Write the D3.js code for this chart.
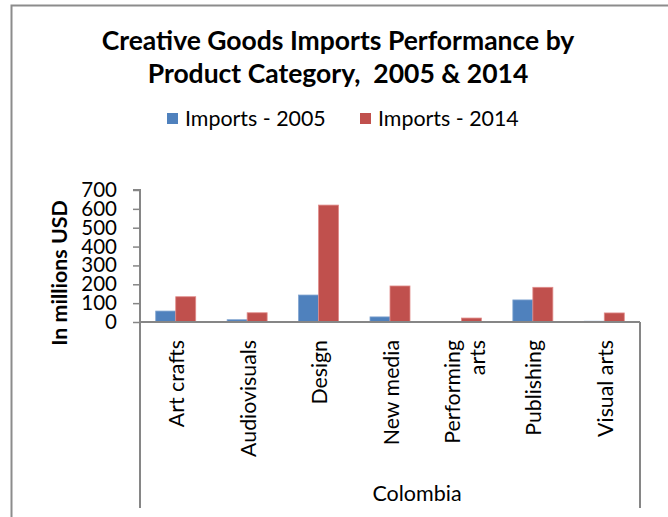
<!DOCTYPE html>
<html><head><meta charset="utf-8">
<script src="https://cdn.jsdelivr.net/npm/d3@7"></script>
<style>html,body{margin:0;padding:0;background:#fff;}svg{display:block;font-family:Lato,"Open Sans",sans-serif;}</style>
</head><body>
<svg id="c" width="668" height="517"></svg>
<script>
const categories = ["Art crafts","Audiovisuals","Design","New media","Performing arts","Publishing","Visual arts"];
const categoryLines = [["Art crafts"],["Audiovisuals"],["Design"],["New media"],["Performing","arts"],["Publishing"],["Visual arts"]];
const seriesNames = ["Imports - 2005","Imports - 2014"];
const imports2005 = [58, 12, 143, 27, 3, 117, 4];
const imports2014 = [134, 49, 620, 191, 21, 184, 48];
const yTicks = [0,100,200,300,400,500,600,700];
const colors = ["#4F81BD","#C0504D"];
const strokes = ["#7FA3CF","#E08C8A"];
const groupLabel = "Colombia";
const title = ["Creative Goods Imports Performance by","Product Category,  2005 & 2014"];
const yLabel = "In millions USD";

(function(){
const svg = d3.select("#c");
svg.append("path").attr("d","M11.5,517 L11.5,5.5 L668,5.5").attr("fill","none").attr("stroke","#8c8c8c").attr("stroke-width",2);

const pL=140, pR=640, pT=190, pB=322;
const x = d3.scaleBand().domain(categories).range([pL,pR]).paddingInner(0.44).paddingOuter(0.22);
const y = d3.scaleLinear().domain([0,700]).range([pB,pT]);
const x1 = d3.scaleBand().domain([0,1]).range([0,x.bandwidth()]);

svg.append("g").selectAll("text").data(title).join("text")
  .attr("x",338).attr("y",(d,i)=>50+i*33).attr("text-anchor","middle")
  .attr("font-weight","bold").attr("font-size",26.5).attr("fill","#000")
  .attr("xml:space","preserve").style("white-space","pre").text(d=>d);

const lg = svg.append("g");
const legX = [167,360];
seriesNames.forEach((n,i)=>{
  lg.append("rect").attr("x",legX[i]).attr("y",113).attr("width",11).attr("height",11).attr("fill",colors[i]);
  lg.append("text").attr("x",legX[i]+18).attr("y",126).attr("font-size",21.4).attr("fill","#000").text(n);
});

const series = [imports2005, imports2014];
series.forEach((vals,si)=>{
  svg.append("g").selectAll("rect").data(categories).join("rect")
    .attr("x",c=>x(c)+x1(si)).attr("width",x1.bandwidth())
    .attr("y",(c,i)=>y(vals[i])).attr("height",(c,i)=>pB-y(vals[i]))
    .attr("fill",colors[si]).attr("stroke",strokes[si]).attr("stroke-width",0.8);
});

const yAxis = svg.append("g").attr("transform",`translate(${pL},0)`)
  .call(d3.axisLeft(y).tickValues(yTicks).tickSize(7).tickPadding(16).tickFormat(d3.format("d")));
yAxis.select(".domain").attr("stroke","#868686").attr("stroke-width",2).attr("d",`M-7,${pT}H0V${pB}`);
yAxis.selectAll(".tick line").attr("stroke","#868686").attr("stroke-width",1.5);
yAxis.selectAll(".tick text").attr("font-size",20.5).attr("fill","#000").attr("font-family","Lato, sans-serif");

svg.append("line").attr("x1",pL).attr("x2",pR).attr("y1",pB).attr("y2",pB).attr("stroke","#868686").attr("stroke-width",2);
svg.append("line").attr("x1",pL).attr("x2",pL).attr("y1",pB).attr("y2",508).attr("stroke","#868686").attr("stroke-width",2);
svg.append("line").attr("x1",pR).attr("x2",pR).attr("y1",pB).attr("y2",508).attr("stroke","#868686").attr("stroke-width",2);

const cl = svg.append("g");
categories.forEach((c,i)=>{
  const lines = categoryLines[i];
  const cx = x(c)+x.bandwidth()/2;
  const offs = lines.length===1 ? [8.5] : [-1.5, 23.5];
  lines.forEach((ln,j)=>{
    cl.append("text").attr("transform",`translate(${cx+offs[j]},340) rotate(-90)`)
      .attr("text-anchor","end").attr("font-size",21.3).attr("fill","#000").text(ln);
  });
});

svg.append("text").attr("x",417).attr("y",501).attr("text-anchor","middle")
  .attr("font-size",21.5).attr("fill","#000").text(groupLabel);

svg.append("text").attr("transform","translate(67,273) rotate(-90)").attr("text-anchor","middle")
  .attr("font-weight","bold").attr("font-size",21.4).attr("fill","#000").text(yLabel);
})();
</script>
</body></html>
